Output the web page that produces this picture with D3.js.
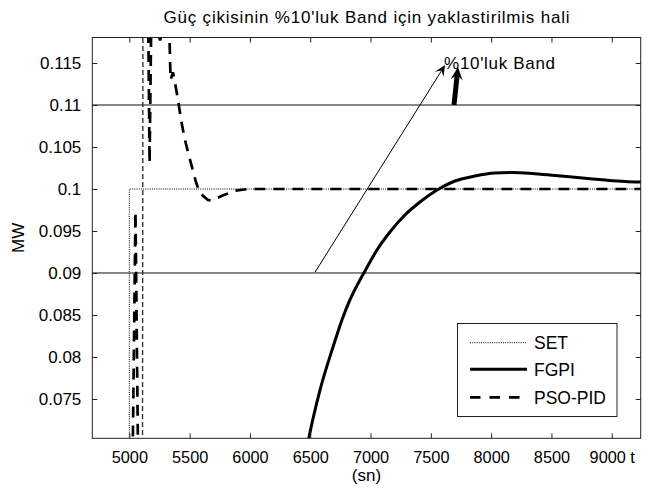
<!DOCTYPE html>
<html><head><meta charset="utf-8">
<script src="https://cdn.jsdelivr.net/npm/d3@7"></script>
<style>
body{margin:0;background:#fff}
svg{display:block}
text{font-family:"Liberation Sans",Arial,sans-serif;fill:#000}
</style>
</head><body>
<svg id="c" width="651" height="489"></svg>
<script>
// ---------- data ----------
const titleText = "Güç çikisinin %10'luk Band için yaklastirilmis hali";
const xTicks = [5000,5500,6000,6500,7000,7500,8000,8500,9000];
const xTickLabels = ["5000","5500","6000","6500","7000","7500","8000","8500","9000 t"];
const yTicks = [0.075,0.08,0.085,0.09,0.095,0.1,0.105,0.11,0.115];
const yTickLabels = ["0.075","0.08","0.085","0.09","0.095","0.1","0.105","0.11","0.115"];
const bandLevels = [0.09, 0.11];
const seriesNames = ["SET","FGPI","PSO-PID"];

const setT = [5000, 5000, 9240];
const setV = [0.06, 0.1, 0.1];

const fgpiT = [6470,6490,6581,6689,6763,6829,6912,6954,7053,7161,7285,7410,7551,7700,7866,8032,8181,8339,8530,8671,8821,8962,9111,9244];
const fgpiV = [0.0690,0.07047,0.07607,0.08119,0.0844,0.08679,0.08917,0.09024,0.09274,0.09488,0.0969,0.09845,0.09988,0.10095,0.10155,0.1019,0.10196,0.10185,0.10161,0.10143,0.10123,0.10104,0.10089,0.10083];

const psoT = [5026,5051,5074, NaN, 5150,5168,5190,5225,5255,5285,5310,5333,5342,5362,5387,5404,5429,5462,5503,5553,5586,5652,5686,5769,5877,5985,9240];
const psoV = [0.066,0.0973,0.066, NaN, 0.13,0.1031,0.13,0.1195,0.1177,0.1195,0.124,0.118,0.1130,0.1139,0.1120,0.1106,0.1082,0.1058,0.1035,0.1008,0.0995,0.0987,0.0986,0.0992,0.0998,0.1,0.1];
const psoRiseT = [5109, 5113];
const psoRiseV = [0.065, 0.125];

const bandText = "%10'luk Band";
const thinArrowT = [6540, 7618];
const thinArrowV = [0.0901, 0.11476];
const thickArrowT = [7692, 7725];
const thickArrowV = [0.11, 0.11452];

// ---------- layout ----------
const L = 92.3, R = 640.7, T = 37.5, B = 438.3;
const x = d3.scaleLinear().domain([4693, 9240]).range([L, R]);
const y = d3.scaleLinear().domain([0.070321, 0.118036]).range([B, T]);

const svg = d3.select("#c");
svg.append("rect").attr("width",651).attr("height",489).attr("fill","#fff");
svg.append("defs").append("clipPath").attr("id","clip")
  .append("rect").attr("x",L).attr("y",T).attr("width",R-L).attr("height",B-T);

const plot = svg.append("g").attr("clip-path","url(#clip)");

// band lines
plot.selectAll("line.band").data(bandLevels).join("line")
  .attr("x1",L).attr("x2",R).attr("y1",d=>y(d)).attr("y2",d=>y(d))
  .attr("stroke","#111").attr("stroke-width",1);

const zip = (a,b)=>a.map((v,i)=>[v,b[i]]);
const lineGen = d3.line().defined(d=>!isNaN(d[0])).x(d=>x(d[0])).y(d=>y(d[1]));
const smooth = d3.line().curve(d3.curveMonotoneX).x(d=>x(d[0])).y(d=>y(d[1]));

// SET
plot.append("path").attr("d",lineGen(zip(setT,setV)))
  .attr("fill","none").attr("stroke","#000").attr("stroke-width",1).attr("stroke-dasharray","1,1.2");
// PSO rise (thin)
plot.append("path").attr("d",lineGen(zip(psoRiseT,psoRiseV)))
  .attr("fill","none").attr("stroke","#333").attr("stroke-width",1.4).attr("stroke-dasharray","5,3");
// PSO-PID
plot.append("path").attr("d",lineGen(zip(psoT,psoV)))
  .attr("fill","none").attr("stroke","#000").attr("stroke-width",2.7).attr("stroke-dasharray","11,8");
// FGPI
plot.append("path").attr("d",smooth(zip(fgpiT,fgpiV)))
  .attr("fill","none").attr("stroke","#000").attr("stroke-width",3);

// axes box
svg.append("rect").attr("x",L).attr("y",T).attr("width",R-L).attr("height",B-T)
  .attr("fill","none").attr("stroke","#222").attr("stroke-width",1);

const tk = 5;
const axX = d3.axisBottom(x).tickValues(xTicks).tickFormat((d,i)=>xTickLabels[i]).tickSizeInner(-tk).tickSizeOuter(0).tickPadding(13);
const gx = svg.append("g").attr("transform",`translate(0,${B})`).call(axX);
const axY = d3.axisLeft(y).tickValues(yTicks).tickFormat((d,i)=>yTickLabels[i]).tickSizeInner(-tk).tickSizeOuter(0).tickPadding(11);
const gy = svg.append("g").attr("transform",`translate(${L},0)`).call(axY);
// mirrored ticks
svg.append("g").attr("transform",`translate(0,${T})`).call(d3.axisTop(x).tickValues(xTicks).tickFormat("").tickSizeInner(-tk).tickSizeOuter(0));
svg.append("g").attr("transform",`translate(${R},0)`).call(d3.axisRight(y).tickValues(yTicks).tickFormat("").tickSizeInner(-tk).tickSizeOuter(0));
svg.selectAll(".domain").remove();
svg.selectAll(".tick line").attr("stroke","#222");
gx.selectAll(".tick text").attr("font-size",16.3).attr("font-family","Liberation Sans, Arial, sans-serif").attr("fill","#000");
gy.selectAll(".tick text").attr("font-size",17).attr("font-family","Liberation Sans, Arial, sans-serif").attr("fill","#000");

// title & labels
svg.append("text").attr("x",(L+R)/2).attr("y",22.5).attr("text-anchor","middle").attr("font-size",17)
  .attr("textLength",406).attr("lengthAdjust","spacing").text(titleText);
svg.append("text").attr("x",(L+R)/2).attr("y",481).attr("text-anchor","middle").attr("font-size",17).text("(sn)");
svg.append("text").attr("transform",`translate(24,${(T+B)/2}) rotate(-90)`).attr("text-anchor","middle").attr("font-size",17).text("MW");

// annotations
function arrow(ts, vs, w, hl, hw, color){
  const x0=x(ts[0]), y0=y(vs[0]), x1=x(ts[1]), y1=y(vs[1]);
  const dx=x1-x0, dy=y1-y0, len=Math.hypot(dx,dy), ux=dx/len, uy=dy/len, px=-uy, py=ux;
  const bx=x1-ux*hl, by=y1-uy*hl;
  const nx=x1-ux*hl*0.6, ny=y1-uy*hl*0.6;
  svg.append("line").attr("x1",x0).attr("y1",y0).attr("x2",nx).attr("y2",ny)
    .attr("stroke",color).attr("stroke-width",w);
  svg.append("path").attr("d",`M${x1},${y1}L${bx+px*hw},${by+py*hw}L${nx},${ny}L${bx-px*hw},${by-py*hw}Z`)
    .attr("fill",color);
}
arrow(thinArrowT, thinArrowV, 1, 11, 5, "#000");
arrow(thickArrowT, thickArrowV, 5, 13, 6, "#000");
svg.append("text").attr("x",x(thinArrowT[1])-1).attr("y",68.5).attr("font-size",17)
  .attr("textLength",111).attr("lengthAdjust","spacing").text(bandText);

// legend
const lg = svg.append("g");
lg.append("rect").attr("x",457.5).attr("y",323.5).attr("width",159.5).attr("height",93)
  .attr("fill","#fff").attr("stroke","#222").attr("stroke-width",1);
const legStyles = [
  {w:1, dash:"1,1.2"},
  {w:3, dash:null},
  {w:2.7, dash:"10.5,9"}
];
const legY = [342.7, 369.3, 397.3];
seriesNames.forEach((n,i)=>{
  const l = lg.append("line").attr("x1",470).attr("x2",527).attr("y1",legY[i]).attr("y2",legY[i])
    .attr("stroke","#000").attr("stroke-width",legStyles[i].w);
  if(legStyles[i].dash) l.attr("stroke-dasharray",legStyles[i].dash);
  lg.append("text").attr("x",534).attr("y",legY[i]+6.5).attr("font-size",17.5).text(n);
});
</script>
</body></html>
